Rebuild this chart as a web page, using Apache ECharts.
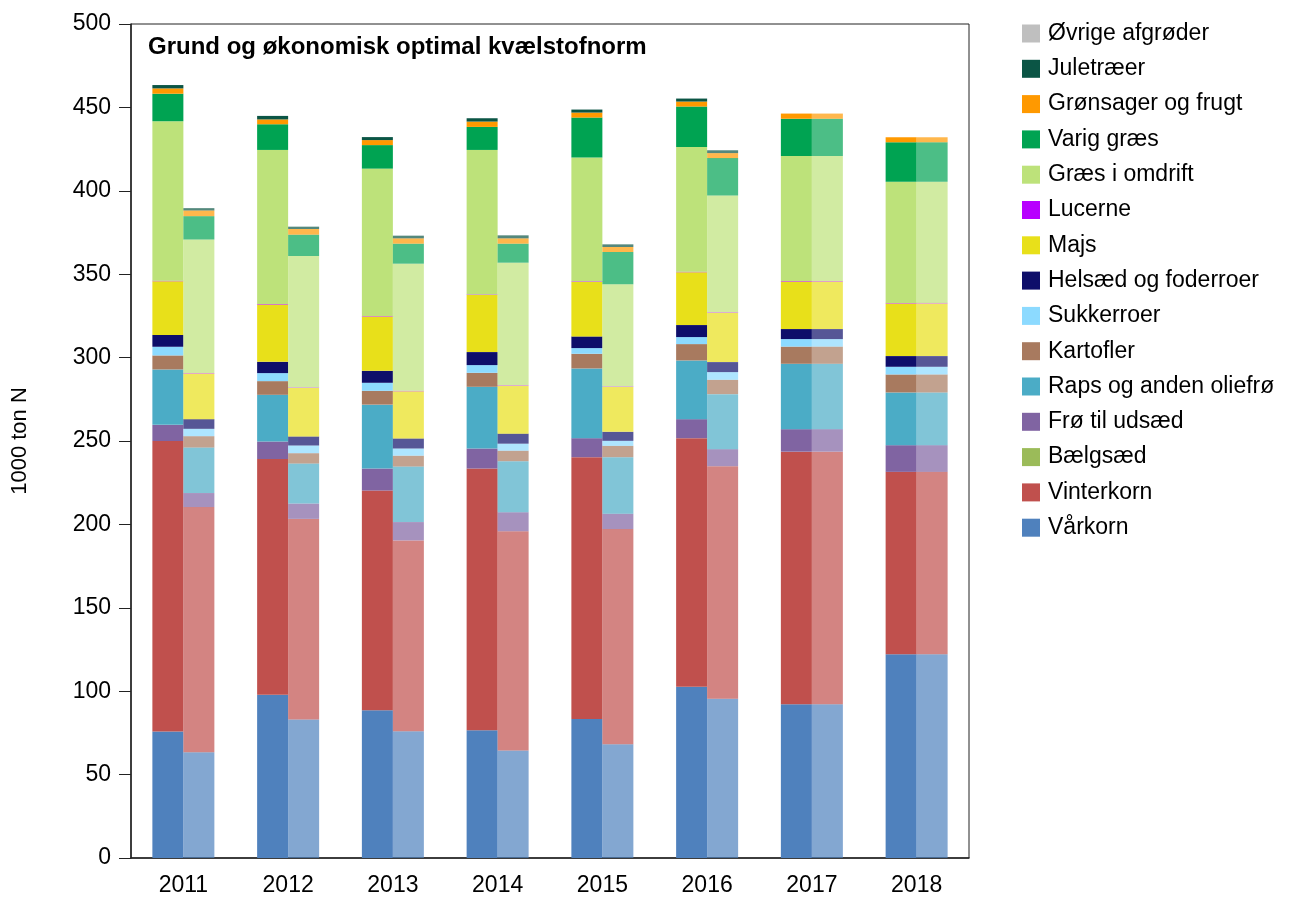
<!DOCTYPE html>
<html>
	<head>
		<meta charset="utf-8">
		<title>Grund og økonomisk optimal kvælstofnorm</title>
		<script src="https://cdn.jsdelivr.net/npm/echarts@6/dist/echarts.min.js"></script>
		<style>
			body { margin: 0; background: #fff; }
		</style>
	</head>
	<body>
		<div id="main" style="width: 1296px;height:901px;"></div>

		<script type="text/javascript">
			// år på x-aksen
			var years = ['2011', '2012', '2013', '2014', '2015', '2016', '2017', '2018'];

			// grundnorm (mørke søjler), 1000 ton N
			var vaarkornGrund   = [75.8, 97.8, 88.6, 76.6, 83.4, 102.6, 92.2, 122.2];
			var vinterkornGrund = [174.2, 141.4, 131.7, 156.9, 156.9, 149.1, 151.4, 109.3];
			var baelgsaedGrund  = [0, 0, 0, 0, 0, 0, 0, 0];
			var froeGrund       = [9.7, 10.5, 13.2, 12.0, 11.4, 11.4, 13.5, 16.0];
			var rapsGrund       = [33.2, 28.0, 38.3, 37.0, 41.8, 35.2, 39.2, 31.6];
			var kartoflerGrund  = [8.4, 8.2, 8.3, 8.4, 8.8, 9.8, 10.3, 10.8];
			var sukkerGrund     = [5.2, 4.8, 4.8, 4.6, 3.4, 4.2, 4.5, 4.6];
			var helsaedGrund    = [7.1, 6.8, 7.2, 7.8, 7.0, 7.2, 6.0, 6.4];
			var majsGrund       = [32.2, 34.3, 32.6, 34.3, 32.7, 31.7, 28.5, 31.6];
			var lucerneGrund    = [0.3, 0.3, 0.3, 0.3, 0.3, 0.3, 0.3, 0.3];
			var graesGrund      = [95.6, 92.4, 88.3, 86.6, 74.3, 74.8, 74.9, 72.6];
			var varigGrund      = [16.5, 15.4, 14.1, 13.8, 23.9, 24.2, 22.4, 23.7];
			var groensagerGrund = [3.2, 2.9, 3.0, 3.2, 3.0, 3.0, 3.1, 3.0];
			var juletraeerGrund = [2.0, 2.1, 1.8, 2.0, 1.8, 1.8, 0, 0];
			var oevrigeGrund    = [0, 0, 0, 0, 0, 0, 0, 0];

			// økonomisk optimal norm (lyse søjler)
			var vaarkornOpt   = [63.4, 83.0, 76.0, 64.4, 68.2, 95.4, 92.2, 122.2];
			var vinterkornOpt = [147.0, 120.3, 114.4, 131.5, 129.0, 139.5, 151.4, 109.3];
			var baelgsaedOpt  = [0, 0, 0, 0, 0, 0, 0, 0];
			var froeOpt       = [8.4, 9.2, 11.0, 11.4, 9.2, 10.2, 13.5, 16.0];
			var rapsOpt       = [27.3, 24.0, 33.3, 30.6, 33.9, 33.0, 39.2, 31.6];
			var kartoflerOpt  = [6.8, 6.2, 6.5, 6.3, 6.8, 8.6, 10.3, 10.8];
			var sukkerOpt     = [4.4, 4.6, 4.3, 4.2, 3.0, 4.6, 4.5, 4.6];
			var helsaedOpt    = [5.8, 5.4, 6.0, 6.0, 5.4, 6.0, 6.0, 6.4];
			var majsOpt       = [27.4, 29.1, 28.3, 28.7, 26.9, 29.6, 28.5, 31.6];
			var lucerneOpt    = [0.3, 0.3, 0.3, 0.3, 0.3, 0.3, 0.3, 0.3];
			var graesOpt      = [80.0, 78.8, 76.2, 73.5, 61.2, 70.0, 74.9, 72.6];
			var varigOpt      = [14.0, 12.8, 12.0, 11.4, 19.4, 22.4, 22.4, 23.7];
			var groensagerOpt = [3.4, 3.4, 3.2, 3.2, 3.0, 3.0, 3.1, 3.0];
			var juletraeerOpt = [1.4, 1.4, 1.6, 1.8, 1.6, 1.7, 0, 0];
			var oevrigeOpt    = [0, 0, 0, 0, 0, 0, 0, 0];

			// afgrøder nedefra og op
			var crops = ['Vårkorn', 'Vinterkorn', 'Bælgsæd', 'Frø til udsæd', 'Raps og anden oliefrø',
				'Kartofler', 'Sukkerroer', 'Helsæd og foderroer', 'Majs', 'Lucerne', 'Græs i omdrift',
				'Varig græs', 'Grønsager og frugt', 'Juletræer', 'Øvrige afgrøder'];
			var colors = ['#4F81BD', '#C0504D', '#9BBB59', '#8064A2', '#4BACC6',
				'#A87A5F', '#8CDAFF', '#0E0E6A', '#E8E01A', '#B800FF', '#BDE27A',
				'#00A352', '#FF9900', '#0B5545', '#BFBFBF'];
			var grund = [vaarkornGrund, vinterkornGrund, baelgsaedGrund, froeGrund, rapsGrund,
				kartoflerGrund, sukkerGrund, helsaedGrund, majsGrund, lucerneGrund, graesGrund,
				varigGrund, groensagerGrund, juletraeerGrund, oevrigeGrund];
			var opt = [vaarkornOpt, vinterkornOpt, baelgsaedOpt, froeOpt, rapsOpt,
				kartoflerOpt, sukkerOpt, helsaedOpt, majsOpt, lucerneOpt, graesOpt,
				varigOpt, groensagerOpt, juletraeerOpt, oevrigeOpt];

			var font = '"Liberation Sans", Arial, sans-serif';
			var series = [];
			// mørke søjler: grundnorm
			for (var i = 0; i < crops.length; i++) {
				series.push({
					name: crops[i], type: 'bar', stack: 'grund', data: grund[i],
					barWidth: 31, barGap: '0%',
					itemStyle: {color: colors[i]}
				});
			}
			// lyse søjler: økonomisk optimal
			for (var i = 0; i < crops.length; i++) {
				series.push({
					name: crops[i], type: 'bar', stack: 'opt', data: opt[i],
					barWidth: 31, barGap: '0%',
					itemStyle: {color: colors[i], opacity: 0.7}
				});
			}

			var myChart = echarts.init(document.getElementById('main'));
			var option = {
				animation: false,
				title: {
					text: 'Grund og økonomisk optimal kvælstofnorm',
					left: 148, top: 35, padding: 0,
					textStyle: {fontFamily: font, fontSize: 24, fontWeight: 'bold', color: '#000'}
				},
				legend: {
					orient: 'vertical', left: 1022, top: 22, padding: 0,
					itemWidth: 18, itemHeight: 18, itemGap: 12.3,
					icon: 'rect',
					data: crops.slice().reverse(),
					textStyle: {fontFamily: font, fontSize: 23, color: '#000', lineHeight: 23, padding: [0, 0, 0, 3]}
				},
				grid: {
					left: 131, right: 327, top: 24, bottom: 43,
					show: true, borderColor: '#222', borderWidth: 1
				},
				xAxis: {
					type: 'category',
					data: years,
					axisLine: {lineStyle: {color: '#222', width: 1.5}},
					axisTick: {length: 12, lineStyle: {color: '#222'}},
					axisLabel: {fontFamily: font, fontSize: 23, color: '#000', margin: 16}
				},
				yAxis: {
					type: 'value', min: 0, max: 500, interval: 50,
					name: '1000 ton N', nameLocation: 'middle', nameGap: 100,
					nameTextStyle: {fontFamily: font, fontSize: 22, color: '#000'},
					axisLine: {show: true, lineStyle: {color: '#222', width: 1.5}},
					axisTick: {show: true, length: 12, lineStyle: {color: '#222'}},
					axisLabel: {fontFamily: font, fontSize: 23, color: '#000', margin: 20},
					splitLine: {show: false}
				},
				series: series
			};
			myChart.setOption(option);
		</script>
	</body>
</html>
